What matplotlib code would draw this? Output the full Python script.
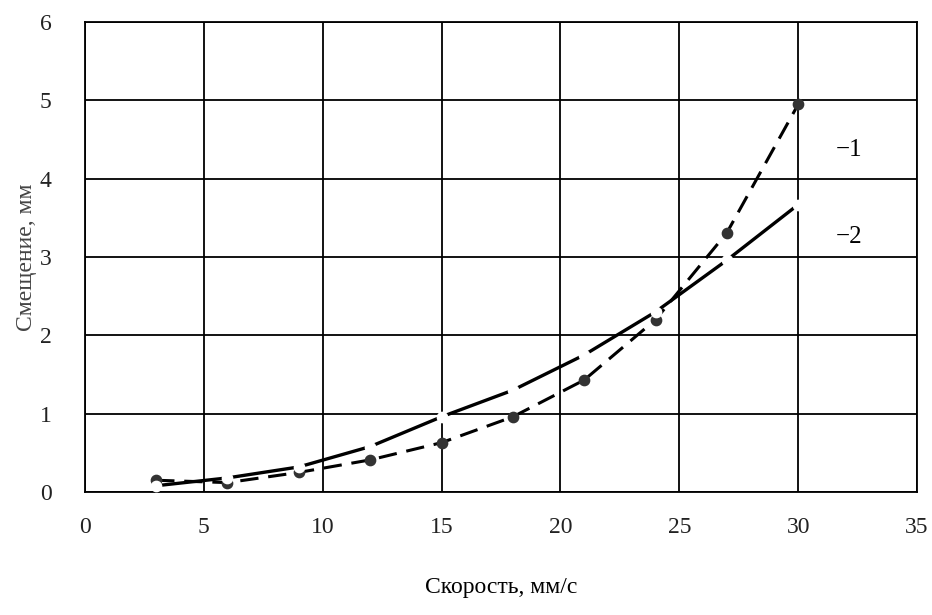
import numpy as np
import matplotlib.pyplot as plt

plt.rcParams['font.family'] = ['Liberation Serif', 'DejaVu Serif']

# data
speed = [3, 6, 9, 12, 15, 18, 21, 24, 27, 30]
shift_1 = [0.15, 0.12, 0.25, 0.41, 0.63, 0.96, 1.43, 2.20, 3.31, 4.95]
shift_2 = [0.08, 0.18, 0.32, 0.58, 0.96, 1.30, 1.75, 2.30, 2.96, 3.67]
curve_labels = ["\u22121", "\u22122"]

fig, ax = plt.subplots(figsize=(9.32, 6.15), dpi=100)
fig.subplots_adjust(left=0.091, right=0.984, bottom=0.2, top=0.964)

# curve 1: dashed line with dark points
ax.plot(speed, shift_1, color="black", lw=2.2, dashes=(6, 3.2), zorder=3)
ax.scatter(speed, shift_1, s=55, color="#333333", zorder=4)
# curve 2: solid line, white markers cut small gaps
ax.plot(speed, shift_2, color="black", lw=2.4, zorder=3)
ax.scatter(speed, shift_2, s=55, color="white", zorder=5)

ax.text(31.6, 4.37, curve_labels[0], fontsize=18, va="center")
ax.text(31.6, 3.25, curve_labels[1], fontsize=18, va="center")

ax.set_xlim(0, 35)
ax.set_ylim(0, 6)
ax.set_xticks(np.arange(0, 36, 5))
ax.set_yticks(np.arange(0, 7, 1))
ax.grid(True, color="black", lw=1.3)
ax.set_axisbelow(True)
ax.tick_params(length=0, labelsize=17, labelcolor="#222222")
ax.tick_params(axis="x", pad=18)
ax.tick_params(axis="y", pad=24)
for s in ax.spines.values():
    s.set_color("black")
    s.set_linewidth(1.3)

ax.set_xlabel("Скорость, мм/с", fontsize=17, labelpad=28)
ax.set_ylabel("Смещение, мм", fontsize=17, color="#444444", labelpad=2)

plt.savefig("out.png")
